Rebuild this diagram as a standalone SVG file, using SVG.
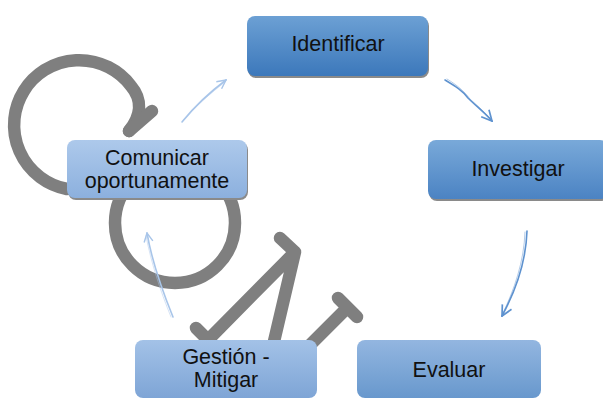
<svg xmlns="http://www.w3.org/2000/svg" width="603" height="398" viewBox="0 0 603 398">
<defs>
<style>
.deco{fill:none;stroke:#7f7f7f;stroke-width:12.5;stroke-linecap:round;stroke-linejoin:round}
.shadow{fill:#8a8a8a}
.lbl{font-family:"Liberation Sans",Arial,sans-serif;font-size:21.5px;fill:#111;text-anchor:middle}
.cl{fill:none;stroke:#a8c5e9;stroke-width:1.6;stroke-linecap:round}
.cm{fill:none;stroke:#5e92cf;stroke-width:1.6;stroke-linecap:round}
.cs{fill:none;stroke-width:0.8;stroke-opacity:0.6}
</style>
<linearGradient id="g1" x1="0" y1="0" x2="0" y2="1"><stop offset="0" stop-color="#6ca0d4"/><stop offset="1" stop-color="#3c78bb"/></linearGradient>
<linearGradient id="g2" x1="0" y1="0" x2="0" y2="1"><stop offset="0" stop-color="#79a9d9"/><stop offset="1" stop-color="#4b83c3"/></linearGradient>
<linearGradient id="g3" x1="0" y1="0" x2="0" y2="1"><stop offset="0" stop-color="#93b6e0"/><stop offset="1" stop-color="#6898cd"/></linearGradient>
<linearGradient id="g4" x1="0" y1="0" x2="0" y2="1"><stop offset="0" stop-color="#a3c2e7"/><stop offset="1" stop-color="#7ea5d6"/></linearGradient>
<linearGradient id="g5" x1="0" y1="0" x2="0" y2="1"><stop offset="0" stop-color="#adc9eb"/><stop offset="1" stop-color="#8cb0de"/></linearGradient>
<marker id="aL" viewBox="0 0 10 10" refX="9" refY="5" markerWidth="11" markerHeight="11" markerUnits="userSpaceOnUse" orient="auto"><path d="M1,1 L9,5 L1,9" fill="none" stroke="#a8c5e9" stroke-width="1.3"/></marker>
<marker id="aM" viewBox="0 0 10 10" refX="9" refY="5" markerWidth="13" markerHeight="13" markerUnits="userSpaceOnUse" orient="auto"><path d="M1,1 L9,5 L1,9" fill="none" stroke="#5e92cf" stroke-width="1.3"/></marker>
</defs>
<rect width="603" height="398" fill="#ffffff"/>

<g id="decoration">
<path class="deco" d="M67 189 A65 65 0 1 1 131 86 C142 99 142 115 129 131"/>
<path class="deco" d="M129 131 L152 111"/>
<circle class="deco" cx="175" cy="223" r="60"/>
<path class="deco" d="M208 340 L295 252 L280 238 M295 252 L272 350 M196 328 L214 346"/>
<path class="deco" d="M338 298 L357 317 M347 308 L308 347"/>
</g>

<g id="connectors">
<path class="cl" d="M182 122 C195 106 210 92 226 80" marker-end="url(#aL)"/>
<path class="cl cs" d="M183 120 C197 105 211 93 225 82"/>
<path class="cm" d="M445 80 C455 86 462 90 468 98 C476 106 484 112 492 121" marker-end="url(#aM)"/>
<path class="cm cs" d="M447 79 C457 85 464 91 470 99 C478 106 485 113 491 119"/>
<path class="cm" d="M527 231 C526 262 516 290 502 316" marker-end="url(#aM)"/>
<path class="cm cs" d="M525 232 C524 262 514 290 503 313"/>
<path class="cl" d="M173 317 C162 290 152 262 147 233" marker-end="url(#aL)"/>
<path class="cl cs" d="M171 317 C160 290 151 262 146 236"/>
</g>

<g id="identificar">
<rect class="shadow" x="248" y="18" width="181" height="60" rx="8"/>
<rect x="247" y="16" width="181" height="60" rx="8" fill="url(#g1)"/>
<text class="lbl" x="338" y="51">Identificar</text>
</g>

<g id="investigar">
<rect class="shadow" x="429" y="142" width="180" height="59" rx="8"/>
<rect x="428" y="140" width="180" height="59" rx="8" fill="url(#g2)"/>
<text class="lbl" x="518" y="176">Investigar</text>
</g>

<g id="comunicar">
<rect class="shadow" x="68" y="142" width="180" height="58" rx="8"/>
<rect x="67" y="140" width="180" height="58" rx="8" fill="url(#g5)"/>
<text class="lbl" x="157" y="164.5">Comunicar</text>
<text class="lbl" x="157" y="188">oportunamente</text>
</g>

<g id="gestion">
<rect x="135" y="340" width="182" height="58" rx="8" fill="url(#g4)"/>
<text class="lbl" x="226" y="363.5">Gestión -</text>
<text class="lbl" x="226" y="387">Mitigar</text>
</g>

<g id="evaluar">
<rect x="357" y="340" width="184" height="58" rx="8" fill="url(#g3)"/>
<text class="lbl" x="449" y="377">Evaluar</text>
</g>
</svg>
